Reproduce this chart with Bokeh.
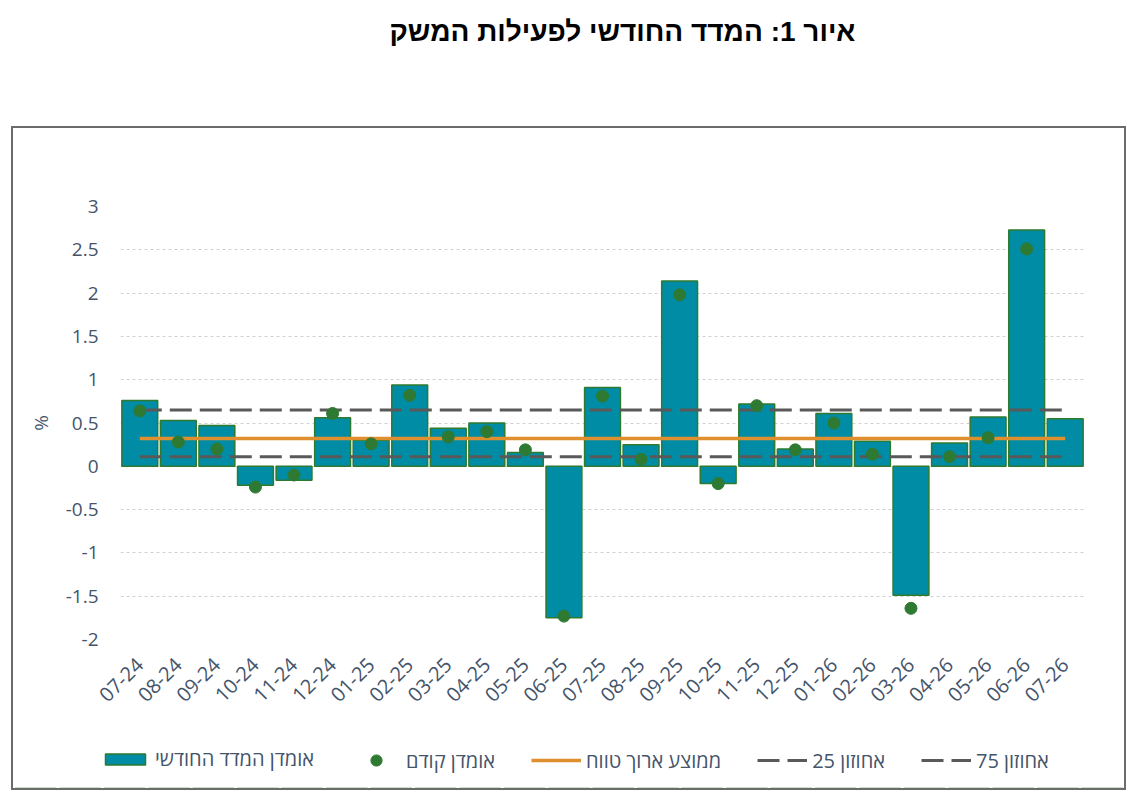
import math
import numpy as np
from bokeh.plotting import figure
from bokeh.layouts import column
from bokeh.models import (ColumnDataSource, FactorRange, Range1d, FixedTicker,
                          CustomJSTickFormatter, Legend, LegendItem)
from bokeh.embed import file_html
from bokeh.resources import INLINE

# ---------------- data ----------------
months = ["07-24", "08-24", "09-24", "10-24", "11-24", "12-24", "01-25", "02-25",
          "03-25", "04-25", "05-25", "06-25", "07-25", "08-25", "09-25", "10-25",
          "11-25", "12-25", "01-26", "02-26", "03-26", "04-26", "05-26", "06-26",
          "07-26"]
monthly_estimate = [0.76, 0.53, 0.47, -0.22, -0.16, 0.56, 0.30, 0.94, 0.44, 0.50,
                    0.16, -1.75, 0.91, 0.25, 2.14, -0.20, 0.72, 0.20, 0.61, 0.29,
                    -1.49, 0.27, 0.57, 2.73, 0.55]
previous_estimate = [0.64, 0.28, 0.20, -0.24, -0.10, 0.61, 0.26, 0.82, 0.34, 0.40,
                     0.19, -1.73, 0.81, 0.08, 1.98, -0.20, 0.70, 0.19, 0.50, 0.14,
                     -1.64, 0.11, 0.33, 2.51, float("nan")]
long_run_avg = 0.32
pct25 = 0.11
pct75 = 0.65
y_ticks = [-2, -1.5, -1, -0.5, 0, 0.5, 1, 1.5, 2, 2.5, 3]

title_text = "איור 1: המדד החודשי לפעילות המשק"
lbl_bars = "אומדן המדד החודשי"
lbl_prev = "אומדן קודם"
lbl_avg = "ממוצע ארוך טווח"
lbl_p25 = "אחוזון 25\u200f"
lbl_p75 = "אחוזון 75\u200f"

# ---------------- styles ----------------
TXT = "#44546A"
FONT = "Open Sans"
BAR_FILL = "#008CA4"
BAR_LINE = "#2E7A2E"
DOT = "#2F7A32"
ORANGE = "#DF8F2E"
DASH = "#595959"


def bare(fig):
    fig.grid.visible = False
    fig.outline_line_color = None


def style_legend(lg, spacing):
    lg.border_line_color = None
    lg.background_fill_alpha = 0
    lg.padding = 0
    lg.margin = 0
    lg.spacing = spacing
    lg.glyph_width = 50
    lg.label_standoff = 5
    lg.label_text_font = FONT
    lg.label_text_font_size = "20px"
    lg.label_text_color = TXT


# ---------------- title figure ----------------
tp = figure(width=1120, height=118, output_backend="svg", toolbar_location=None,
            x_range=(0, 1), y_range=(0, 1), x_axis_location=None, y_axis_location=None,
            min_border_left=108, min_border_right=0, min_border_top=0,
            min_border_bottom=0, margin=(8, 0, 0, 8), frame_align=False)
bare(tp)
tp.title.text = title_text
tp.title.align = "center"
tp.title.text_font = "Liberation Sans"
tp.title.text_font_size = "28px"
tp.title.text_font_style = "bold"
tp.title.text_color = "#000000"

# ---------------- main figure ----------------
src = ColumnDataSource(dict(m=months, v=monthly_estimate, prev=previous_estimate))
n = len(months)

p = figure(x_range=FactorRange(factors=months), y_range=Range1d(-2, 3),
           width=1111, height=595, output_backend="svg", toolbar_location=None,
           min_border_left=107, min_border_right=40, min_border_top=78,
           min_border_bottom=84, frame_align=False)
p.outline_line_color = None

p.vbar(x="m", top="v", bottom=0, width=0.93, fill_color=BAR_FILL,
       line_color=BAR_LINE, line_width=1.5, source=src)
p.line(x=months, y=[pct75] * n, line_color=DASH, line_width=3, line_dash="22 8")
p.line(x=months, y=[pct25] * n, line_color=DASH, line_width=3, line_dash="22 8")
p.line(x=months, y=[long_run_avg] * n, line_color=ORANGE, line_width=3.5)
p.scatter(x="m", y="prev", size=12, fill_color=DOT, line_color=DOT, source=src)

p.xgrid.grid_line_color = None
p.ygrid.grid_line_color = "#D0D0D0"
p.ygrid.grid_line_dash = "3 3"
p.ygrid.grid_line_width = 1

p.yaxis.ticker = FixedTicker(ticks=y_ticks)
p.yaxis.formatter = CustomJSTickFormatter(code="return String(tick);")
p.yaxis.axis_line_color = None
p.yaxis.major_tick_line_color = None
p.yaxis.minor_tick_line_color = None
p.yaxis.major_tick_out = 0
p.yaxis.major_label_standoff = 22
p.yaxis.major_label_text_font = FONT
p.yaxis.major_label_text_font_size = "19px"
p.yaxis.major_label_text_color = TXT
p.yaxis.axis_label = "%"
p.yaxis.axis_label_text_font = FONT
p.yaxis.axis_label_text_font_style = "normal"
p.yaxis.axis_label_text_font_size = "19px"
p.yaxis.axis_label_text_color = TXT
p.yaxis.axis_label_standoff = 9

p.xaxis.axis_line_color = None
p.xaxis.major_tick_line_color = None
p.xaxis.major_tick_out = 0
p.xaxis.major_label_orientation = math.pi / 4
p.xaxis.major_label_standoff = 22
p.xaxis.major_label_text_font = FONT
p.xaxis.major_label_text_font_size = "20px"
p.xaxis.major_label_text_color = TXT

# ---------------- legend strip (same data, drawn outside its visible range) -----
lp = figure(width=1111, height=65, output_backend="svg", toolbar_location=None,
            x_range=FactorRange(factors=months), y_range=Range1d(10, 11),
            x_axis_location=None, y_axis_location=None, min_border=0,
            frame_align=False)
bare(lp)
g_bar = lp.vbar(x="m", top="v", bottom=0, width=0.93, fill_color=BAR_FILL,
                line_color=BAR_LINE, line_width=1.5, source=src)
g_dot = lp.scatter(x="m", y="prev", size=12, fill_color=DOT, line_color=DOT, source=src)
g_avg = lp.line(x=months, y=[long_run_avg] * n, line_color=ORANGE, line_width=3.5)
g_p25 = lp.line(x=months, y=[pct25] * n, line_color=DASH, line_width=3, line_dash="22 8")
g_p75 = lp.line(x=months, y=[pct75] * n, line_color=DASH, line_width=3, line_dash="22 8")

legend_a = Legend(items=[LegendItem(label=lbl_bars, renderers=[g_bar])],
                  orientation="horizontal", location=(87, 16))
style_legend(legend_a, 33)
legend_a.glyph_height = 14
lp.add_layout(legend_a)

legend_b = Legend(items=[LegendItem(label=lbl_prev, renderers=[g_dot]),
                         LegendItem(label=lbl_avg, renderers=[g_avg]),
                         LegendItem(label=lbl_p25, renderers=[g_p25]),
                         LegendItem(label=lbl_p75, renderers=[g_p75])],
                  orientation="horizontal", location=(338, 14))
style_legend(legend_b, 36)
legend_b.glyph_height = 28
lp.add_layout(legend_b)

box = column(p, lp, spacing=0, margin=(0, 0, 0, 11),
             styles={"border": "2px solid #6b6b6b"})
layout = column(tp, box, spacing=0)
open("out.html", "w").write(file_html(layout, INLINE))
